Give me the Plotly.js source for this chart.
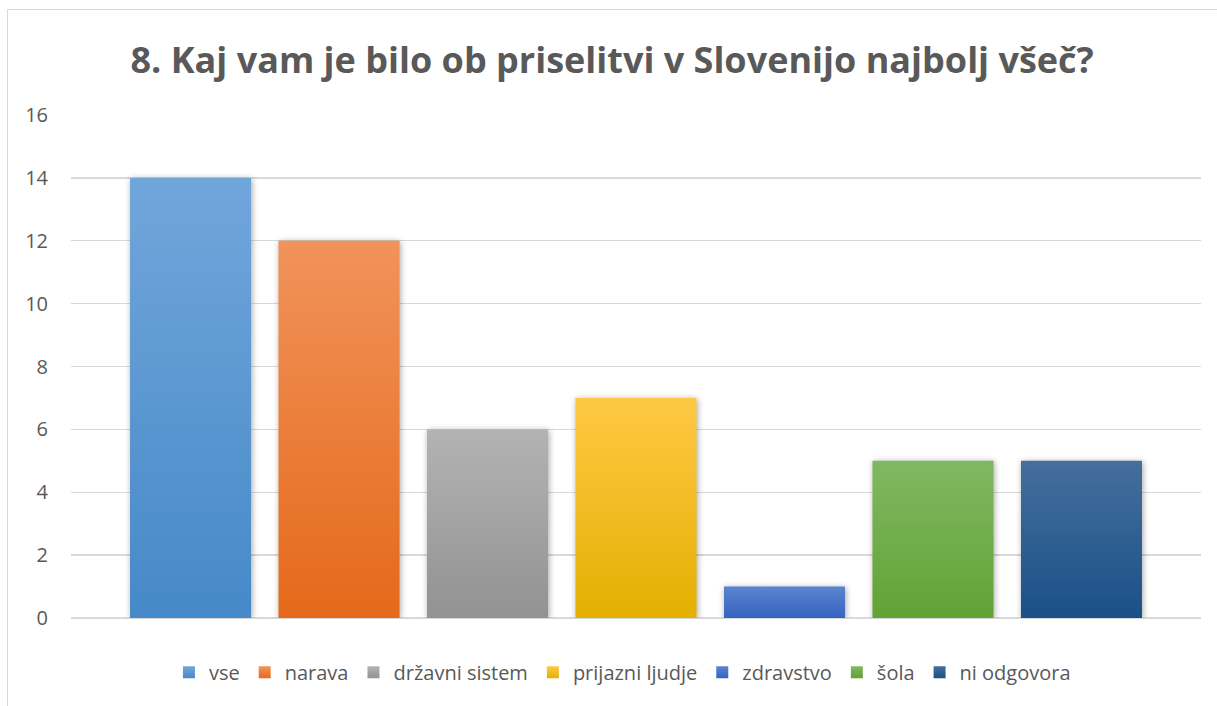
<!DOCTYPE html>
<html>
<head>
<meta charset="utf-8">
<script src="https://cdn.plot.ly/plotly-3.0.1.min.js"></script>
<style>
  html, body { margin: 0; padding: 0; background: #fff; overflow: hidden; }
  #frame { position: absolute; left: 7px; top: 9px; width: 1230px; height: 720px; border: 1.5px solid #d9d9d9; box-sizing: border-box; }
  #chart { position: absolute; left: 0; top: 0; width: 1217px; height: 706px; }
  #chart .barlayer .trace path { filter: drop-shadow(1px 1px 3px rgba(0,0,0,0.35)); }
</style>
</head>
<body>
<svg width="0" height="0" style="position:absolute">
  <defs id="grads"></defs>
</svg>
<div id="frame"></div>
<div id="chart"></div>
<script>
const categories = ["vse", "narava", "državni sistem", "prijazni ljudje", "zdravstvo", "šola", "ni odgovora"];
const values = [14, 12, 6, 7, 1, 5, 5];
const colors = ["#5b9bd5", "#ed7d31", "#a5a5a5", "#ffc000", "#4472c4", "#70ad47", "#255e91"];
const gradTop = ["#71a6db", "#f1935b", "#b3b3b3", "#ffc845", "#5b84d0", "#80b862", "#456f9c"];
const gradBottom = ["#4689c8", "#e5691a", "#929292", "#e3b000", "#3564c0", "#62a234", "#1a5088"];
const yTicks = [0, 2, 4, 6, 8, 10, 12, 14, 16];
const titleText = "8. Kaj vam je bilo ob priselitvi v Slovenijo najbolj všeč?";

const FONT = "Open Sans, Lato, sans-serif";

// gradient definitions (styling only)
const defs = document.getElementById("grads");
const NS = "http://www.w3.org/2000/svg";
categories.forEach((c, i) => {
  const g = document.createElementNS(NS, "linearGradient");
  g.setAttribute("id", "grad" + i);
  g.setAttribute("x1", "0"); g.setAttribute("y1", "0");
  g.setAttribute("x2", "0"); g.setAttribute("y2", "1");
  [[0, gradTop[i]], [1, gradBottom[i]]].forEach(([o, col]) => {
    const s = document.createElementNS(NS, "stop");
    s.setAttribute("offset", o);
    s.setAttribute("stop-color", col);
    g.appendChild(s);
  });
  defs.appendChild(g);
});

const traces = categories.map((c, i) => ({
  type: "bar",
  x: [c],
  y: [values[i]],
  name: c,
  width: 0.815,
  marker: { color: colors[i], line: { width: 0 } },
  hoverinfo: "x+y"
}));

const layout = {
  width: 1217,
  height: 706,
  paper_bgcolor: "rgba(0,0,0,0)",
  plot_bgcolor: "rgba(0,0,0,0)",
  margin: { l: 71, r: 16, t: 115, b: 88 },
  barmode: "overlay",
  title: {
    text: "<b>" + titleText + "</b>",
    font: { family: FONT, size: 36, color: "#595959" },
    x: 0.503, xanchor: "center",
    y: 0.915, yanchor: "middle"
  },
  xaxis: {
    type: "category",
    categoryorder: "array",
    categoryarray: categories,
    range: [-0.805, 6.805],
    showticklabels: false,
    showgrid: false,
    zeroline: false,
    showline: false,
    fixedrange: true
  },
  yaxis: {
    range: [0, 16],
    tickvals: yTicks,
    ticktext: yTicks.map(String),
    showgrid: true,
    gridcolor: "#d9d9d9",
    gridwidth: 1.3,
    zeroline: true,
    zerolinecolor: "#d9d9d9",
    zerolinewidth: 2,
    showline: false,
    ticks: "",
    ticklabelstandoff: 22,
    tickfont: { family: FONT, size: 20, color: "#595959" },
    fixedrange: true
  },
  showlegend: true,
  legend: {
    orientation: "h",
    x: 0.488, xanchor: "center",
    y: -0.108, yanchor: "middle",
    font: { family: FONT, size: 20, color: "#595959" },
    itemwidth: 30,
    tracegroupgap: 0,
    itemclick: false,
    itemdoubleclick: false
  }
};

Plotly.newPlot("chart", traces, layout, { displayModeBar: false, staticPlot: true }).then(() => {
  document.querySelectorAll("#chart .barlayer .trace").forEach((t, i) => {
    t.querySelectorAll("path").forEach(p => { p.style.fill = "url(#grad" + i + ")"; });
  });
  document.querySelectorAll("#chart .legend .traces").forEach((t, i) => {
    t.querySelectorAll(".legendpoints path").forEach(p => { p.style.fill = "url(#grad" + i + ")"; });
  });
});
</script>
</body>
</html>
